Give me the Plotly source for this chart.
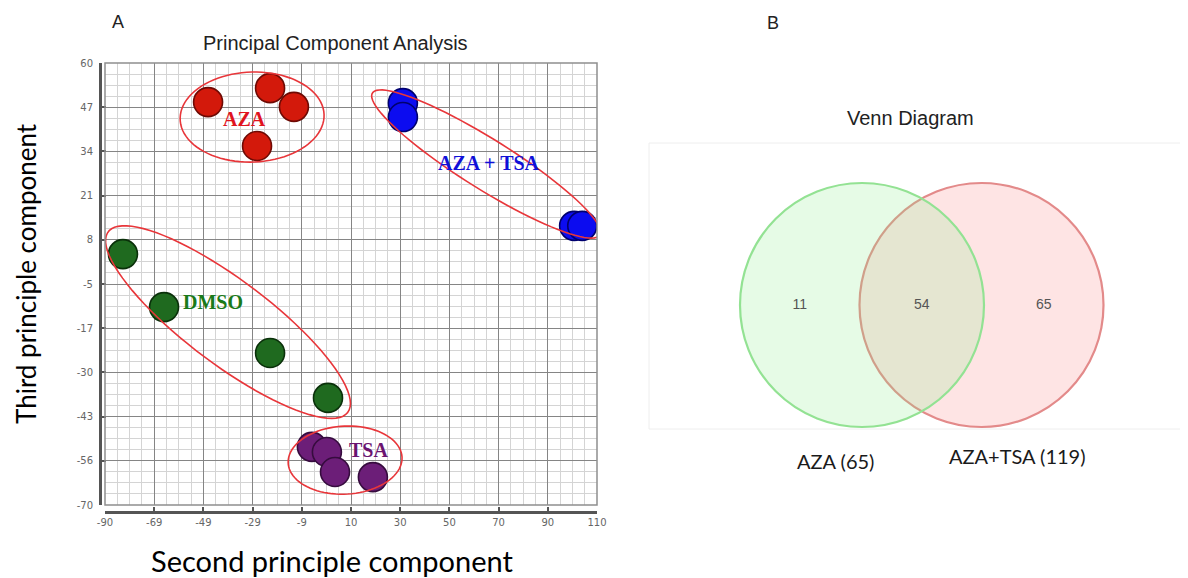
import numpy as np
import plotly.graph_objects as go

# ---------------- data ----------------
groups = ["AZA", "AZA + TSA", "DMSO", "TSA"]
aza_x = [-48.1, -22.9, -13.2, -28.2]
aza_y = [48.5, 52.6, 47.1, 35.6]
azatsa_x = [31.1, 31.1, 100.7, 104.0]
azatsa_y = [48.2, 44.1, 12.1, 12.1]
dmso_x = [-82.7, -66.0, -22.9, 0.65]
dmso_y = [3.8, -11.8, -25.3, -38.5]
tsa_x = [-5.9, 0.2, 3.5, 18.9]
tsa_y = [-52.9, -54.4, -60.3, -61.8]

x_tick_labels = ["-90", "-69", "-49", "-29", "-9", "10", "30", "50", "70", "90", "110"]
y_tick_labels = ["-70", "-56", "-43", "-30", "-17", "-5", "8", "21", "34", "47", "60"]

venn_sets = ["AZA", "AZA+TSA"]
venn_set_sizes = [65, 119]
venn_only_left = 11
venn_both = 54
venn_only_right = 65

# ---------------- layout constants ----------------
OFF = 8                      # page body margin of the browser
FIG_W, FIG_H = 1188 - OFF, 578 - OFF
X_RANGE = [-90, 110]
Y_RANGE = [-70, 60]
PX_L, PX_R, PX_T, PX_B = 105, 597, 63, 505
SX = (PX_R - PX_L) / (X_RANGE[1] - X_RANGE[0])
SY = (PX_B - PX_T) / (Y_RANGE[1] - Y_RANGE[0])


def pxx(px):
    return (px - OFF) / FIG_W


def pxy(py):
    return 1 - (py - OFF) / FIG_H


styles = {
    "AZA": dict(fill="#d3190b", edge="#6e0a04", text="#e0141e"),
    "AZA + TSA": dict(fill="#0c0cf0", edge="#00006e", text="#1010d8"),
    "DMSO": dict(fill="#1f6a1f", edge="#0a300a", text="#1a7a1a"),
    "TSA": dict(fill="#6c1e78", edge="#360c3e", text="#6a1470"),
}
series = {
    "AZA": (aza_x, aza_y),
    "AZA + TSA": (azatsa_x, azatsa_y),
    "DMSO": (dmso_x, dmso_y),
    "TSA": (tsa_x, tsa_y),
}
# label positions (data coords) and ellipse geometry (center data, semi-axes px, angle deg)
label_pos = {"AZA": (-33.1, 43.4), "AZA + TSA": (66.1, 30.7), "DMSO": (-46.2, -10.3), "TSA": (17.3, -53.7)}
ellipses = {
    "AZA": (-30.2, 44.1, 72, 45, -2),
    "AZA + TSA": (64.9, 30.3, 134, 25, 32),
    "DMSO": (-40.0, -16.2, 150, 42, 37),
    "TSA": (7.6, -56.8, 57, 34, -3),
}


def ellipse_path(cx, cy, a, b, ang, n=90):
    t = np.linspace(0, 2 * np.pi, n)
    th = np.deg2rad(ang)
    dx = a * np.cos(t) * np.cos(th) - b * np.sin(t) * np.sin(th)
    dy = a * np.cos(t) * np.sin(th) + b * np.sin(t) * np.cos(th)
    xs = cx + dx / SX
    ys = cy - dy / SY
    p = "M %.3f %.3f " % (xs[0], ys[0])
    p += " ".join("L %.3f %.3f" % (x, y) for x, y in zip(xs[1:], ys[1:]))
    return p + " Z"


fig = go.Figure()

for g in groups:
    xs, ys = series[g]
    st = styles[g]
    fig.add_trace(go.Scatter(
        x=xs, y=ys, mode="markers", name=g,
        marker=dict(size=29, color=st["fill"], line=dict(color=st["edge"], width=1.6)),
        xaxis="x", yaxis="y", hoverinfo="skip",
    ))

shapes = []
annotations = []
for g in groups:
    cx, cy, a, b, ang = ellipses[g]
    shapes.append(dict(type="path", path=ellipse_path(cx, cy, a, b, ang), xref="x", yref="y",
                       line=dict(color="#e8363a", width=1.6), layer="above"))
    lx, ly = label_pos[g]
    annotations.append(dict(x=lx, y=ly, xref="x", yref="y", text="<b>%s</b>" % g, showarrow=False,
                            xanchor="center", yanchor="middle",
                            font=dict(family="Liberation Serif", size=20, color=styles[g]["text"])))

# plot frame
shapes.append(dict(type="rect", xref="x domain", yref="y domain", x0=0, x1=1, y0=0, y1=1,
                   line=dict(color="#8f8f8f", width=1.5), layer="above"))

# ---------------- Venn ----------------
VB_L, VB_R, VB_T, VB_B = 649, 1188, 143, 429
vw, vh = VB_R - VB_L, VB_B - VB_T
R = 122
cy_v = 124
c_left = 213
c_right = 332.5
shapes.append(dict(type="circle", xref="x2", yref="y2", x0=c_right - R, x1=c_right + R, y0=cy_v - R, y1=cy_v + R,
                   fillcolor="rgba(250,130,130,0.22)", line=dict(color="#e38a8a", width=2.2), layer="below"))
shapes.append(dict(type="circle", xref="x2", yref="y2", x0=c_left - R, x1=c_left + R, y0=cy_v - R, y1=cy_v + R,
                   fillcolor="rgba(140,236,140,0.22)", line=dict(color="#93e293", width=2.2), layer="below"))
shapes.append(dict(type="rect", xref="x2 domain", yref="y2 domain", x0=0, x1=1, y0=0, y1=1,
                   line=dict(color="#eeeeee", width=1), layer="below"))

left_only_x = ((c_left - R) + (c_right - R)) / 2
both_x = (c_left + c_right) / 2
right_only_x = ((c_left + R) + (c_right + R)) / 2
fig.add_trace(go.Scatter(
    x=[left_only_x, both_x, right_only_x], y=[cy_v] * 3, mode="text",
    text=[str(venn_only_left), str(venn_both), str(venn_only_right)],
    textfont=dict(family="Liberation Sans", size=14, color="#555555"),
    xaxis="x2", yaxis="y2", hoverinfo="skip",
))

set_label_px = [(835, 461), (1017, 456)]
for name, size, (px, py) in zip(venn_sets, venn_set_sizes, set_label_px):
    annotations.append(dict(x=pxx(px), y=pxy(py), xref="paper", yref="paper",
                            text="%s (%d)" % (name, size), showarrow=False,
                            xanchor="center", yanchor="middle",
                            font=dict(family="Lato", size=20, color="#1a1a1a")))


# titles & panel letters
def paper_ann(text, px, py, size, family="Liberation Sans", color="#222222", angle=0):
    return dict(x=pxx(px), y=pxy(py), xref="paper", yref="paper", text=text, showarrow=False,
                xanchor="center", yanchor="middle", borderpad=0,
                textangle=angle, font=dict(family=family, size=size, color=color))


annotations += [
    paper_ann("A", 118, 22, 18),
    paper_ann("Principal Component Analysis", 335, 43, 20),
    paper_ann("B", 773, 23, 18),
    paper_ann("Venn Diagram", 910, 118, 20),
    paper_ann("Third principle component", 26, 274, 26, family="Lato", color="#000000", angle=-90),
    paper_ann("Second principle component", 332, 560, 29, family="Lato", color="#000000"),
]

tick_font = dict(family="DejaVu Sans", size=10, color="#666666")
fig.update_layout(
    template="none",
    width=FIG_W, height=FIG_H,
    margin=dict(l=0, r=0, t=0, b=0, pad=0),
    paper_bgcolor="white", plot_bgcolor="white",
    showlegend=False,
    shapes=shapes, annotations=annotations,
    xaxis=dict(
        domain=[pxx(PX_L), pxx(PX_R)], range=X_RANGE, automargin=False,
        anchor="free", position=pxy(512),
        tickmode="array", tickvals=list(np.linspace(X_RANGE[0], X_RANGE[1], len(x_tick_labels))),
        ticktext=x_tick_labels, tickfont=tick_font,
        showgrid=True, gridcolor="#858585", gridwidth=1.4, zeroline=False,
        showline=True, linecolor="#555555", linewidth=3,
        ticks="inside", ticklen=4, tickwidth=2, tickcolor="#555555",
        minor=dict(tickmode="linear", tick0=X_RANGE[0], dtick=5, showgrid=True, gridcolor="#d4d4d4", gridwidth=1, ticks=""),
        fixedrange=True,
    ),
    yaxis=dict(
        domain=[pxy(PX_B), pxy(PX_T)], range=Y_RANGE, automargin=False,
        anchor="free", position=pxx(100),
        tickmode="array", tickvals=list(np.linspace(Y_RANGE[0], Y_RANGE[1], len(y_tick_labels))),
        ticktext=y_tick_labels, tickfont=tick_font, ticklabelstandoff=4,
        showgrid=True, gridcolor="#858585", gridwidth=1.4, zeroline=False,
        showline=True, linecolor="#555555", linewidth=3,
        ticks="inside", ticklen=4, tickwidth=2, tickcolor="#555555",
        minor=dict(tickmode="linear", tick0=Y_RANGE[0], dtick=3.25, showgrid=True, gridcolor="#d4d4d4", gridwidth=1, ticks=""),
        fixedrange=True,
    ),
    xaxis2=dict(domain=[pxx(VB_L), 1.0], range=[0, vw], anchor="y2", visible=False,
                automargin=False, fixedrange=True),
    yaxis2=dict(domain=[pxy(VB_B), pxy(VB_T)], range=[0, vh], anchor="x2", visible=False,
                automargin=False, fixedrange=True),
)

fig.write_html("out.html")
